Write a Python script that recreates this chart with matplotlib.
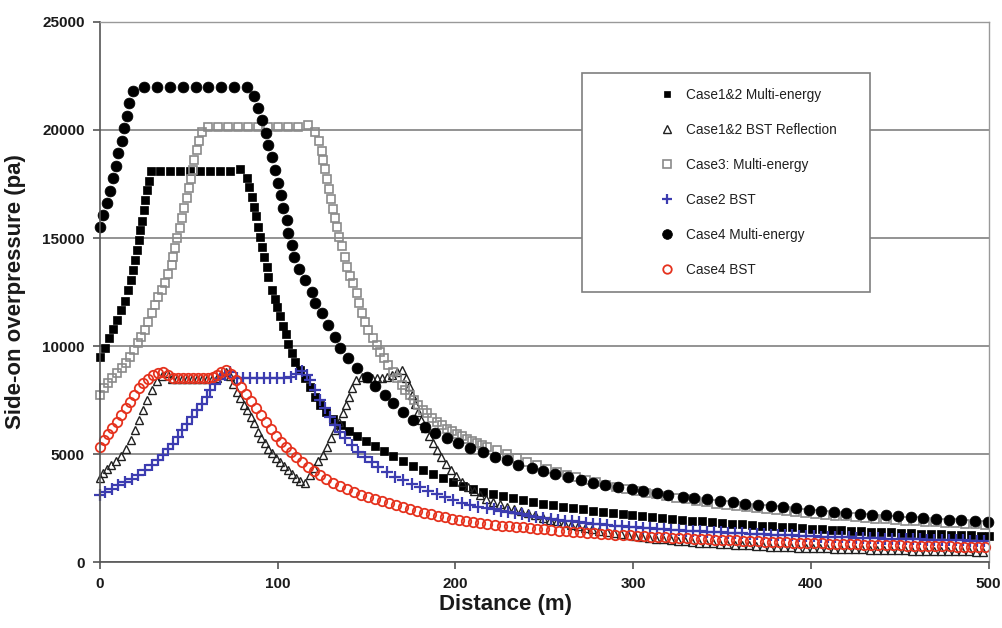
import matplotlib
matplotlib.use("Agg")
import matplotlib.pyplot as plt

plt.rcParams['font.family'] = ['Liberation Sans', 'DejaVu Sans']

# (distance m, overpressure pa)
case12_me = [(0, 9500), (2.8, 9900), (5.1, 10350), (7.3, 10800), (9.8, 11200), (11.8, 11650), (13.9, 12100),
             (15.7, 12600), (17.2, 13050), (18.6, 13500), (19.7, 14000), (20.8, 14450), (21.9, 14900),
             (22.7, 15350), (23.7, 15800), (24.7, 16300), (25.4, 16750), (26.4, 17200), (27.5, 17650),
             (28.6, 18100), (34, 18100), (39.6, 18100), (45.2, 18100), (50.8, 18100), (56.4, 18100),
             (62, 18100), (67.6, 18100), (73.2, 18100), (78.8, 18200), (82.6, 17800), (83.8, 17350),
             (85.3, 16900), (86.5, 16450), (87.9, 16000), (88.9, 15500), (90, 15050), (91.1, 14600),
             (92.3, 14100), (93.7, 13650), (94.7, 13200), (96.6, 12600), (98.2, 12200), (99.6, 11800),
             (101.2, 11400), (102.8, 10950), (104.6, 10550), (106, 10100), (107.8, 9700), (109.7, 9250),
             (112.3, 8900), (115.1, 8500), (118, 8100), (120.9, 7650), (123.8, 7280), (127, 6950),
             (131, 6620), (135.4, 6340), (140, 6070), (144.6, 5830), (149.6, 5600), (154.6, 5370),
             (159.7, 5140), (164.8, 4910), (170.3, 4680), (175.9, 4460), (181.6, 4260), (187.2, 4070),
             (192.9, 3890), (198.5, 3700), (204.1, 3530), (209.8, 3390), (215.4, 3250), (221, 3150),
             (226.7, 3060), (232.3, 2960), (237.9, 2870), (243.6, 2780), (249.2, 2700), (254.8, 2630),
             (260.4, 2560), (266, 2500), (271.6, 2440), (277.2, 2380), (282.8, 2320), (288.4, 2270),
             (294, 2220), (299.6, 2170), (305.2, 2120), (310.8, 2080), (316.4, 2040), (322, 1990),
             (327.6, 1950), (333.2, 1910), (338.8, 1880), (344.4, 1840), (350, 1810), (355.6, 1770),
             (361.2, 1740), (366.8, 1710), (372.4, 1680), (378, 1650), (383.6, 1620), (389.2, 1600),
             (394.8, 1570), (400.4, 1550), (406, 1520), (411.6, 1500), (417.2, 1480), (422.8, 1450),
             (428.4, 1430), (434, 1410), (439.6, 1390), (445.2, 1370), (450.8, 1350), (456.4, 1330),
             (462, 1310), (467.6, 1300), (473.2, 1280), (478.8, 1260), (484.4, 1240), (490, 1230),
             (495.6, 1210), (500, 1200)]

case12_bst = [(0, 3890), (1.7, 4120), (3.9, 4310), (6.2, 4490), (9, 4680), (11.8, 4910), (14.6, 5230),
              (17.4, 5650), (19.7, 6110), (21.9, 6570), (24.2, 7040), (26.4, 7500), (29.3, 7960),
              (32.1, 8380), (34.9, 8610), (37.7, 8750), (40.5, 8470), (43.3, 8470), (46.1, 8470),
              (48.9, 8470), (51.8, 8470), (54.6, 8470), (57.4, 8470), (60.2, 8470), (63, 8470),
              (65.8, 8520), (68.1, 8700), (70.9, 8800), (73.1, 8610), (74.8, 8240), (77.1, 7870),
              (78.8, 7590), (81, 7270), (82.7, 7040), (84.9, 6710), (86.6, 6440), (88.9, 6020),
              (90.6, 5740), (92.8, 5510), (94.5, 5230), (96.8, 5050), (99, 4820), (101.3, 4630),
              (103.5, 4440), (105.8, 4260), (108, 4070), (110.3, 3890), (112.5, 3750), (115.3, 3660),
              (118.1, 4030), (120.4, 4350), (122.6, 4680), (125.4, 4950), (127.7, 5320), (129.9, 5740),
              (132.2, 6110), (134.4, 6480), (136.7, 6900), (138.4, 7270), (140.1, 7640), (141.8, 8060),
              (144, 8430), (147.4, 8570), (150.2, 8520), (153, 8520), (155.8, 8520), (158.6, 8520),
              (161.4, 8570), (164.3, 8660), (167.1, 8800), (169.9, 8890), (172.1, 8520), (173.8, 8150),
              (175.5, 7730), (177.2, 7320), (178.9, 6950), (180.6, 6570), (182.8, 6200), (185.1, 5830),
              (187.3, 5510), (189.6, 5190), (191.8, 4860), (194.6, 4540), (197.4, 4260), (200.3, 3980),
              (203.6, 3700), (207, 3470), (210.4, 3290), (213.8, 3100), (217.1, 2920), (221, 2800),
              (225, 2680), (229, 2570), (233, 2460), (237, 2360), (241, 2260), (245, 2160), (249, 2060),
              (253, 1970), (257, 1880), (261, 1800), (265, 1720), (269, 1650), (273, 1580), (277, 1510),
              (281, 1450), (285, 1390), (289, 1340), (293, 1290), (297, 1240), (301, 1200), (305, 1160),
              (309, 1120), (313, 1080), (317, 1050), (321, 1020), (325, 990), (329, 960), (333, 930),
              (337, 900), (341, 880), (345, 860), (349, 840), (353, 820), (357, 800), (361, 790),
              (365, 770), (369, 750), (373, 740), (377, 720), (381, 710), (385, 700), (389, 680),
              (393, 670), (397, 660), (401, 650), (405, 640), (409, 630), (413, 620), (417, 610),
              (421, 600), (425, 590), (429, 585), (433, 575), (437, 570), (441, 560), (445, 555),
              (449, 545), (453, 540), (457, 535), (461, 530), (465, 520), (469, 515), (473, 510),
              (477, 505), (481, 500), (485, 495), (489, 490), (493, 485), (497, 480)]

case3_me = [(0, 7730), (2.3, 8060), (4.5, 8290), (6.8, 8520), (9.6, 8750), (12.4, 8980), (14.6, 9210),
            (16.9, 9490), (19.1, 9820), (21.4, 10140), (23.1, 10420), (25.3, 10740), (27, 11110),
            (29.3, 11530), (30.9, 11900), (32.6, 12270), (34.9, 12590), (36.6, 12920), (38.3, 13330),
            (40.5, 13750), (41.1, 14120), (42.2, 14540), (43.3, 15000), (45, 15460), (46.1, 15930),
            (47.3, 16390), (48.9, 16850), (50.1, 17320), (51.2, 17730), (52.3, 18150), (52.9, 18610),
            (54.6, 19080), (55.7, 19490), (57.4, 19910), (60.8, 20140), (66.4, 20140), (72, 20140),
            (77.6, 20140), (83.3, 20140), (88.9, 20140), (94.5, 20140), (100.1, 20140), (105.8, 20140),
            (111.4, 20140), (117, 20230), (120.9, 19910), (123.2, 19490), (124.9, 19030), (125.4, 18610),
            (126.6, 18200), (127.7, 17730), (128.8, 17270), (129.9, 16810), (131.1, 16340), (132.2, 15930),
            (133.3, 15510), (134.4, 15050), (136.1, 14630), (137.8, 14120), (138.9, 13660), (140.6, 13240),
            (142.3, 12920), (144.6, 12450), (145.7, 11990), (147.4, 11530), (149.1, 11110), (150.8, 10740),
            (153.6, 10370), (155.8, 10050), (157.5, 9720), (159.8, 9450), (162, 9120), (164.8, 8800),
            (167.1, 8520), (169.9, 8200), (171.6, 7960), (174.4, 7730), (176.6, 7500), (178.9, 7270),
            (181.7, 7040), (183.9, 6900), (186.8, 6670), (189.6, 6480), (192.4, 6330), (195.2, 6180),
            (198, 6050), (200.8, 5930), (203.6, 5820), (206.4, 5710), (209.3, 5610), (212.1, 5510),
            (214.9, 5420), (217.7, 5330), (223.3, 5180), (228.9, 4980), (234.5, 4800), (240.1, 4630),
            (245.7, 4470), (251.3, 4320), (256.9, 4180), (262.5, 4050), (268.1, 3920), (273.7, 3800),
            (279.3, 3690), (284.9, 3580), (290.5, 3480), (296.1, 3390), (301.7, 3300), (307.3, 3210),
            (312.9, 3130), (318.5, 3050), (324.1, 2970), (329.7, 2900), (335.3, 2830), (340.9, 2770),
            (346.5, 2710), (352.1, 2650), (357.7, 2600), (363.3, 2550), (368.9, 2500), (374.5, 2450),
            (380.1, 2400), (385.7, 2360), (391.3, 2320), (396.9, 2270), (402.5, 2230), (408.1, 2190),
            (413.7, 2150), (419.3, 2120), (424.9, 2080), (430.5, 2050), (436.1, 2010), (441.7, 1980),
            (447.3, 1950), (452.9, 1920), (458.5, 1890), (464.1, 1860), (469.7, 1840), (475.3, 1810),
            (480.9, 1790), (486.5, 1760), (492.1, 1740), (497.7, 1720)]

case2_bst = [(0, 3100), (2.8, 3240), (6.8, 3380), (10.1, 3560), (14.1, 3700), (18, 3840), (21.4, 4030),
             (25.3, 4260), (29.3, 4490), (32.6, 4720), (35.4, 4960), (38.3, 5230), (41.1, 5460),
             (43.9, 5790), (46.1, 6110), (48.9, 6390), (51.8, 6710), (54.6, 7040), (57.4, 7320),
             (60.2, 7640), (61.9, 7970), (64.7, 8240), (67.5, 8470), (70.3, 8660), (73.1, 8800),
             (76.9, 8520), (80.7, 8520), (84.5, 8520), (88.3, 8520), (92.1, 8520), (95.9, 8520),
             (99.7, 8520), (103.5, 8520), (107.3, 8570), (110.2, 8700), (113.4, 8850), (116.2, 8650),
             (118.1, 8430), (120.9, 7960), (123.8, 7500), (126.6, 7130), (129.4, 6710), (132.2, 6340),
             (135, 6020), (137.8, 5740), (141.8, 5420), (145.1, 5090), (149.1, 4860), (153, 4630),
             (156.4, 4400), (161.4, 4170), (165.9, 3940), (170.4, 3800), (175.5, 3610), (180, 3470),
             (184.5, 3290), (189.6, 3150), (194.1, 3010), (198.6, 2870), (203.6, 2730), (208.1, 2640),
             (212.6, 2550), (217.7, 2490), (221.5, 2440), (225.5, 2380), (229.5, 2320), (233.5, 2260),
             (237.5, 2210), (241.5, 2150), (245.5, 2100), (249.5, 2050), (253.5, 2000), (257.5, 1960),
             (261.5, 1920), (265.5, 1880), (269.5, 1840), (273.5, 1800), (277.5, 1770), (281.5, 1740),
             (285.5, 1710), (289.5, 1680), (293.5, 1650), (297.5, 1630), (301.5, 1600), (305.5, 1580),
             (309.5, 1560), (313.5, 1540), (317.5, 1520), (321.5, 1500), (325.5, 1480), (329.5, 1460),
             (333.5, 1440), (337.5, 1420), (341.5, 1410), (345.5, 1390), (349.5, 1370), (353.5, 1360),
             (357.5, 1340), (361.5, 1330), (365.5, 1310), (369.5, 1300), (373.5, 1280), (377.5, 1270),
             (381.5, 1260), (385.5, 1240), (389.5, 1230), (393.5, 1220), (397.5, 1210), (401.5, 1200),
             (405.5, 1180), (409.5, 1170), (413.5, 1160), (417.5, 1150), (421.5, 1140), (425.5, 1130),
             (429.5, 1120), (433.5, 1110), (437.5, 1100), (441.5, 1090), (445.5, 1080), (449.5, 1070),
             (453.5, 1065), (457.5, 1055), (461.5, 1045), (465.5, 1040), (469.5, 1030), (473.5, 1020),
             (477.5, 1015), (481.5, 1005), (485.5, 1000), (489.5, 990), (493.5, 985), (497.5, 975)]

case4_me = [(0, 15510), (1.7, 16070), (3.9, 16620), (5.6, 17180), (7.3, 17780), (9, 18330), (10.1, 18940),
            (12.4, 19490), (13.5, 20090), (15.2, 20650), (16.3, 21250), (18.6, 21810), (24.8, 22000),
            (32.1, 22000), (39.4, 22000), (46.7, 22000), (54, 22000), (60.8, 22000), (68.1, 22000),
            (75.4, 22000), (82.7, 22000), (86.6, 21580), (88.9, 21020), (91.1, 20460), (93.4, 19860),
            (94.5, 19310), (96.8, 18750), (98.4, 18150), (100.1, 17550), (101.8, 16990), (102.9, 16390),
            (105.2, 15830), (105.8, 15230), (108, 14680), (109.1, 14120), (111.9, 13570), (115.3, 13060),
            (119.3, 12500), (120.9, 11990), (124.9, 11530), (128.3, 10970), (132.2, 10420), (135, 9910),
            (139.5, 9450), (144.6, 8980), (150.2, 8570), (154.7, 8150), (160.3, 7730), (164.8, 7360),
            (170.4, 6950), (176.1, 6570), (182.8, 6250), (188.4, 5970), (195.2, 5740), (201.4, 5510),
            (208.1, 5280), (215.4, 5090), (222.2, 4860), (228.9, 4720), (235.1, 4490), (243, 4350),
            (249.2, 4210), (255.9, 4070), (263.3, 3940), (270.6, 3800), (277.3, 3660), (284.1, 3570),
            (291.4, 3470), (299.3, 3380), (305.4, 3290), (313.3, 3190), (319.5, 3100), (327.8, 3020),
            (334.3, 2960), (341.6, 2900), (348.8, 2830), (355.9, 2770), (362.8, 2710), (370.3, 2650),
            (377.3, 2590), (384.4, 2540), (391.5, 2480), (398.8, 2430), (405.9, 2380), (412.9, 2340),
            (420, 2290), (427.5, 2240), (434.6, 2200), (442, 2160), (449, 2120), (456.2, 2080),
            (463.1, 2040), (470.6, 2000), (477.7, 1970), (484.7, 1940), (492.2, 1900), (499.7, 1870)]

case4_bst = [(0, 5320), (2.3, 5650), (4.5, 5930), (6.8, 6200), (9.6, 6480), (11.8, 6810), (14.6, 7130),
             (16.9, 7410), (19.1, 7730), (21.9, 8060), (24.2, 8290), (27, 8470), (29.8, 8660), (32.6, 8750),
             (35.4, 8800), (38.3, 8660), (41.1, 8520), (43.9, 8520), (46.7, 8520), (49.5, 8520),
             (52.3, 8520), (55.1, 8520), (57.9, 8520), (60.8, 8520), (63.6, 8570), (65.8, 8660),
             (68.1, 8800), (70.9, 8890), (73.7, 8700), (76.5, 8430), (79.3, 8100), (82.1, 7780),
             (84.9, 7450), (87.8, 7130), (90.6, 6810), (93.4, 6480), (96.2, 6160), (99, 5830),
             (101.8, 5560), (104.6, 5320), (107.4, 5090), (110.3, 4860), (113.6, 4630), (117, 4400),
             (120.4, 4210), (123.8, 4030), (127.1, 3840), (131, 3660), (135, 3520), (138.9, 3380),
             (142.9, 3240), (146.8, 3100), (150.8, 3010), (154.7, 2920), (158.6, 2820), (162.6, 2730),
             (166.5, 2640), (170.4, 2550), (174.4, 2450), (178.3, 2360), (182.3, 2270), (186.2, 2220),
             (190.1, 2130), (194.1, 2080), (198, 1990), (201.9, 1940), (205.9, 1900), (209.8, 1850),
             (213.8, 1810), (217.7, 1760), (222, 1720), (226, 1690), (230, 1660), (234, 1630),
             (238, 1600), (242, 1570), (246, 1540), (250, 1510), (254, 1480), (258, 1460), (262, 1430),
             (266, 1410), (270, 1380), (274, 1360), (278, 1340), (282, 1310), (286, 1290), (290, 1270),
             (294, 1250), (298, 1230), (302, 1210), (306, 1190), (310, 1180), (314, 1160), (318, 1140),
             (322, 1130), (326, 1110), (330, 1100), (334, 1080), (338, 1070), (342, 1050), (346, 1040),
             (350, 1020), (354, 1010), (358, 1000), (362, 985), (366, 975), (370, 960), (374, 950),
             (378, 940), (382, 925), (386, 915), (390, 905), (394, 895), (398, 885), (402, 875),
             (406, 865), (410, 855), (414, 845), (418, 840), (422, 830), (426, 820), (430, 810),
             (434, 805), (438, 795), (442, 790), (446, 780), (450, 775), (454, 765), (458, 760),
             (462, 750), (466, 745), (470, 740), (474, 735), (478, 725), (482, 720), (486, 715),
             (490, 710), (494, 705), (498, 700)]

labels = ['Case1&2 Multi-energy', 'Case1&2 BST Reflection', 'Case3: Multi-energy',
          'Case2 BST', 'Case4 Multi-energy', 'Case4 BST']

fig = plt.figure(figsize=(10.03, 6.28), dpi=100)
ax = fig.add_axes([0.0997, 0.105, 0.886, 0.86])

series = [case12_me, case12_bst, case3_me, case2_bst, case4_me, case4_bst]
styles = [
    dict(marker='s', ms=5.4, mfc='black', mec='black', mew=0.5),
    dict(marker='^', ms=6.3, mfc='none', mec='#202020', mew=1.0),
    dict(marker='s', ms=5.8, mfc='none', mec='#8a8a8a', mew=1.2),
    dict(marker='+', ms=8, mfc='none', mec='#3c3cb0', mew=1.6),
    dict(marker='o', ms=7.8, mfc='black', mec='black', mew=0.5),
    dict(marker='o', ms=6.8, mfc='none', mec='#e5321e', mew=1.3),
]
for pts, lab, st in zip(series, labels, styles):
    xs = [p[0] for p in pts]
    ys = [p[1] for p in pts]
    ax.plot(xs, ys, ls='none', label=lab, clip_on=False, **st)

ax.set_xlim(0, 500)
ax.set_ylim(0, 25000)
ax.set_xticks(range(0, 501, 100))
ax.set_yticks(range(0, 25001, 5000))
ax.yaxis.grid(True, color='#808080', lw=1.2)
ax.set_axisbelow(True)
for s in ['left', 'bottom']:
    ax.spines[s].set_color('#555555')
    ax.spines[s].set_linewidth(1.2)
for s in ['top', 'right']:
    ax.spines[s].set_color('#999999')
    ax.spines[s].set_linewidth(1.0)
ax.tick_params(direction='out', length=5, width=1.2, color='#555555', labelsize=11, pad=6)
for t in ax.get_xticklabels() + ax.get_yticklabels():
    t.set_fontweight('bold')
    t.set_color('#1a1a1a')

ax.set_xlabel('Distance (m)', fontsize=16, fontweight='bold', color='#1a1a1a')
ax.xaxis.set_label_coords(0.456, -0.06, transform=ax.transAxes)
ax.set_ylabel('Side-on overpressure (pa)', fontsize=16, fontweight='bold', color='#1a1a1a')
ax.yaxis.set_label_coords(-0.083, 0.5, transform=ax.transAxes)

leg = ax.legend(loc='upper left', bbox_to_anchor=(0.542, 0.494, 0.324, 0.412), mode='expand',
                frameon=True, fancybox=False, edgecolor='#7f7f7f', framealpha=1, fontsize=9.8,
                labelspacing=1.55, borderpad=1.1, handlelength=10.4, handletextpad=-3.8,
                markerscale=0.9, borderaxespad=0)
leg.get_frame().set_linewidth(1.2)
for t in leg.get_texts():
    t.set_color('#202020')

fig.savefig('out.png', dpi=100)
